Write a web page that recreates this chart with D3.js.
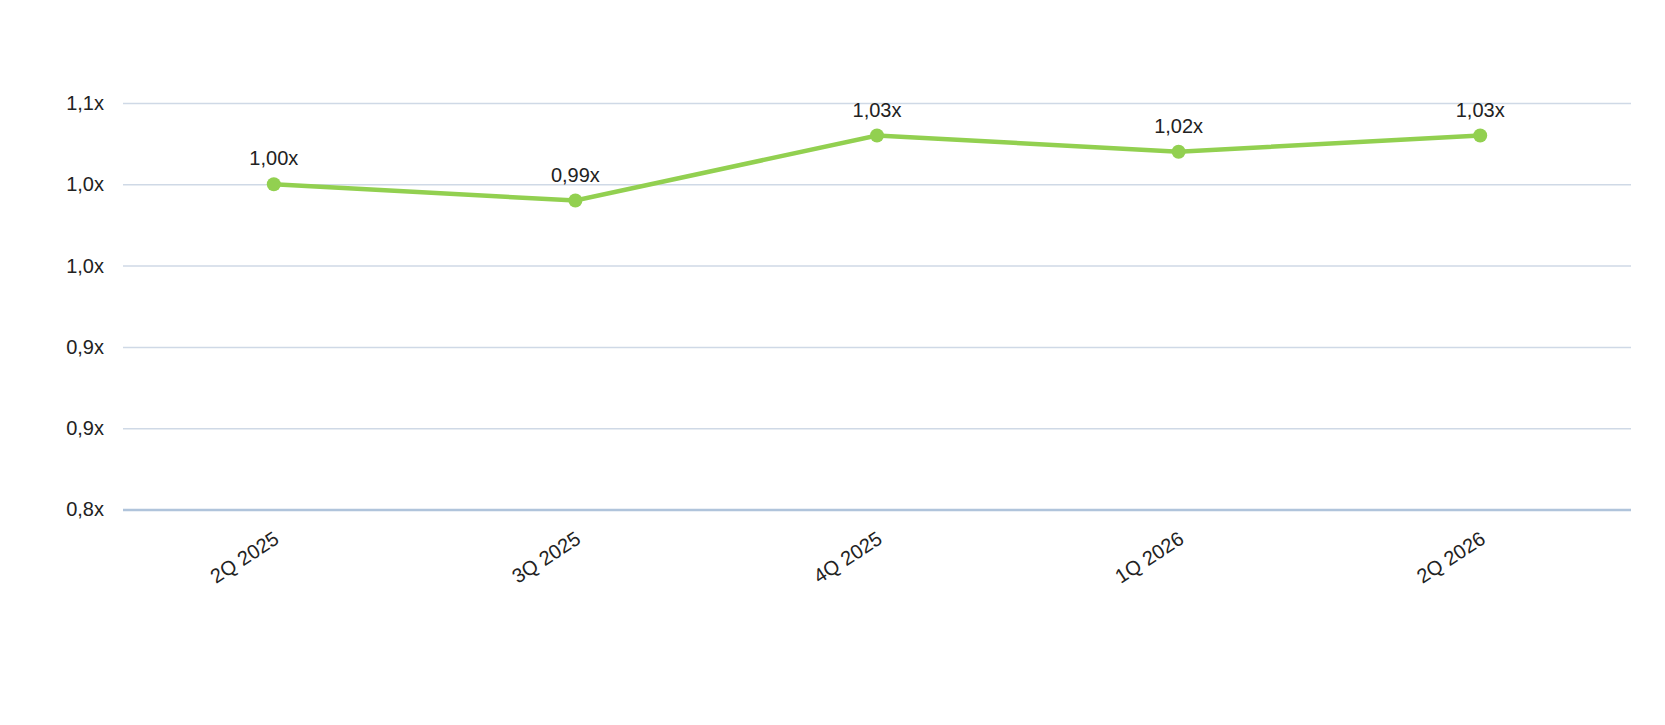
<!DOCTYPE html>
<html><head><meta charset="utf-8">
<script src="https://cdn.jsdelivr.net/npm/d3@7"></script>
<style>body{margin:0;background:#fff;}text{font-family:"Liberation Sans",Arial,sans-serif;}</style>
</head><body>
<svg id="c" width="1665" height="725"></svg>
<script>
const categories = ["2Q 2025","3Q 2025","4Q 2025","1Q 2026","2Q 2026"];
const values = [1.00, 0.99, 1.03, 1.02, 1.03];
const yTicks = [0.80, 0.85, 0.90, 0.95, 1.00, 1.05];

const svg = d3.select("#c");
const m = {left:123, right:1631, top:103, bottom:509.5};
const x = d3.scaleBand().domain(categories).range([m.left, m.right]);
const y = d3.scaleLinear().domain([0.80, 1.05]).range([m.bottom, m.top]);
const fmt1 = v => d3.format(".1f")(v + 1e-9).replace(".", ",") + "x";
const fmt2 = v => d3.format(".2f")(v).replace(".", ",") + "x";

// grid
const ya = svg.append("g").attr("transform", `translate(${m.left},0)`)
  .call(d3.axisLeft(y).tickValues(yTicks).tickSize(-(m.right - m.left)).tickPadding(19).tickFormat(fmt1));
ya.select(".domain").remove();
ya.selectAll(".tick line").attr("stroke", "#cfd9e6").attr("stroke-width", 1.5);
ya.selectAll(".tick text").attr("font-size", 20).attr("fill", "#222");
ya.selectAll(".tick").filter(d => d === 0.80).select("line").attr("stroke", "#b0c4db").attr("stroke-width", 2.5);

// x axis labels
const xa = svg.append("g").attr("transform", `translate(0,${m.bottom})`)
  .call(d3.axisBottom(x).tickSize(0).tickPadding(0));
xa.select(".domain").remove();
xa.selectAll(".tick text")
  .attr("font-size", 20).attr("fill", "#222")
  .attr("text-anchor", "end")
  .attr("transform", "translate(-1,21) rotate(-33)")
  .attr("dy", "0.7em");

const cx = d => x(d) + x.bandwidth() / 2;
const pts = categories.map((c, i) => ({c, v: values[i]}));

svg.append("path").datum(pts)
  .attr("fill", "none").attr("stroke", "#92d050").attr("stroke-width", 4.5)
  .attr("d", d3.line().x(d => cx(d.c)).y(d => y(d.v)));

svg.selectAll("circle.p").data(pts).join("circle")
  .attr("cx", d => cx(d.c)).attr("cy", d => y(d.v)).attr("r", 7).attr("fill", "#92d050");

svg.selectAll("text.lbl").data(pts).join("text").attr("class", "lbl")
  .attr("x", d => cx(d.c)).attr("y", d => y(d.v) - 19)
  .attr("text-anchor", "middle").attr("font-size", 20).attr("fill", "#222")
  .text(d => fmt2(d.v));
</script>
</body></html>
